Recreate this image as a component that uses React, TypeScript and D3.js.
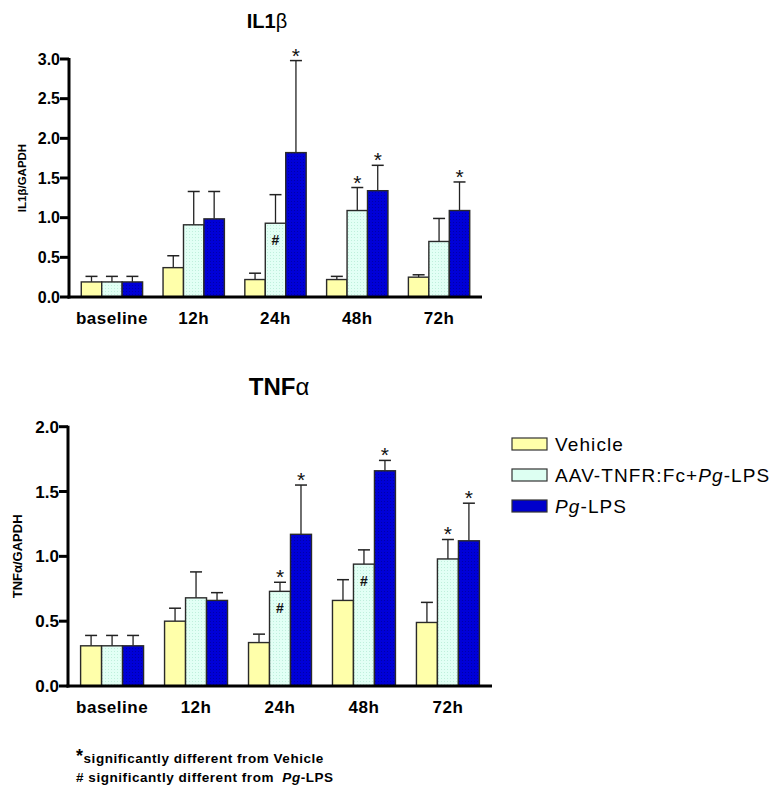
import React from "react";
import * as d3 from "d3";

const categories = ["baseline", "12h", "24h", "48h", "72h"];
const seriesNames = ["Vehicle", "AAV-TNFR:Fc+Pg-LPS", "Pg-LPS"];

// IL1β / GAPDH
const il1Vehicle = [0.19, 0.37, 0.22, 0.22, 0.25];
const il1VehicleErr = [0.07, 0.15, 0.08, 0.04, 0.03];
const il1Aav = [0.19, 0.91, 0.93, 1.09, 0.7];
const il1AavErr = [0.07, 0.42, 0.36, 0.29, 0.29];
const il1Pg = [0.19, 0.985, 1.82, 1.34, 1.09];
const il1PgErr = [0.07, 0.345, 1.16, 0.32, 0.36];
const il1AavStar = [false, false, false, true, false];
const il1PgStar = [false, false, true, true, true];
const il1AavHash = [false, false, true, false, false];
const il1Ticks = [0, 0.5, 1.0, 1.5, 2.0, 2.5, 3.0];

// TNFα / GAPDH
const tnfVehicle = [0.31, 0.5, 0.335, 0.66, 0.49];
const tnfVehicleErr = [0.08, 0.1, 0.065, 0.16, 0.155];
const tnfAav = [0.31, 0.68, 0.73, 0.94, 0.98];
const tnfAavErr = [0.08, 0.2, 0.07, 0.11, 0.15];
const tnfPg = [0.31, 0.66, 1.17, 1.66, 1.12];
const tnfPgErr = [0.08, 0.06, 0.38, 0.08, 0.29];
const tnfAavStar = [false, false, true, false, true];
const tnfPgStar = [false, false, true, true, true];
const tnfAavHash = [false, false, true, true, false];
const tnfTicks = [0, 0.5, 1.0, 1.5, 2.0];

const fills = ["#FFFFAA", "url(#cyanPat)", "url(#bluePat)"];
const legendFills = ["#FFFFAA", "#DDFFF2", "#0000CC"];
const FONT = "Arial, 'Liberation Sans', Helvetica, sans-serif";

type Panel = {
  title: React.ReactNode;
  titleX: number;
  titleY: number;
  titleSize: number;
  yLabel: React.ReactNode;
  yLabelX: number;
  yLabelSize: number;
  xRange: [number, number];
  yRange: [number, number];
  yMax: number;
  ticks: number[];
  tickSize: number;
  xLabelY: number;
  values: number[][];
  errs: number[][];
  stars: (boolean[] | null)[];
  hashes: (boolean[] | null)[];
};

function ChartPanel({ p }: { p: Panel }) {
  const x = d3
    .scaleBand<string>()
    .domain(categories)
    .range(p.xRange)
    .paddingInner(0.25)
    .paddingOuter(0.15);
  const sub = d3
    .scaleBand<number>()
    .domain([0, 1, 2])
    .range([0, x.bandwidth()]);
  const y = d3.scaleLinear().domain([0, p.yMax]).range(p.yRange);
  const y0 = y(0);
  const bw = sub.bandwidth();
  const capW = 12;

  return (
    <g>
      <text
        x={p.titleX}
        y={p.titleY}
        textAnchor="middle"
        fontFamily={FONT}
        fontWeight="bold"
        fontSize={p.titleSize}
      >
        {p.title}
      </text>
      <text
        transform={`translate(${p.yLabelX},${(y(0) + y(p.yMax)) / 2}) rotate(-90)`}
        textAnchor="middle"
        fontFamily={FONT}
        fontWeight="bold"
        fontSize={p.yLabelSize}
      >
        {p.yLabel}
      </text>
      {p.values.map((vals, s) =>
        categories.map((c, i) => {
          const bx = (x(c) as number) + (sub(s) as number);
          const top = y(vals[i]);
          const errTop = y(vals[i] + p.errs[s][i]);
          const cx = bx + bw / 2;
          const st = p.stars[s];
          const hs = p.hashes[s];
          return (
            <g key={`${s}-${i}`}>
              <line x1={cx} x2={cx} y1={top} y2={errTop} stroke="#222" strokeWidth={1.3} />
              <line
                x1={cx - capW / 2}
                x2={cx + capW / 2}
                y1={errTop}
                y2={errTop}
                stroke="#222"
                strokeWidth={1.5}
              />
              <rect
                x={bx}
                y={top}
                width={bw}
                height={y0 - top}
                fill={fills[s]}
                stroke="#2a2a2a"
                strokeWidth={1.4}
              />
              {st && st[i] ? (
                <text
                  x={cx}
                  y={errTop + 2}
                  textAnchor="middle"
                  fontFamily={FONT}
                  fontSize={21}
                  fill="#111"
                >
                  *
                </text>
              ) : null}
              {hs && hs[i] ? (
                <text
                  x={cx}
                  y={top + 22}
                  textAnchor="middle"
                  fontFamily={FONT}
                  fontWeight="bold"
                  fontSize={14}
                  fill="#111"
                >
                  #
                </text>
              ) : null}
            </g>
          );
        })
      )}
      {/* axes */}
      <line
        x1={p.xRange[0]}
        x2={p.xRange[0]}
        y1={y(p.yMax) - 1}
        y2={y0 + 1.5}
        stroke="#000"
        strokeWidth={3}
      />
      <line
        x1={p.xRange[0] - 1.5}
        x2={p.xRange[1]}
        y1={y0}
        y2={y0}
        stroke="#000"
        strokeWidth={3}
      />
      {p.ticks.map((t) => (
        <g key={t}>
          <line
            x1={p.xRange[0] - 9}
            x2={p.xRange[0]}
            y1={y(t)}
            y2={y(t)}
            stroke="#000"
            strokeWidth={3}
          />
          <text
            x={p.xRange[0] - 9}
            y={y(t) + p.tickSize * 0.36}
            textAnchor="end"
            fontFamily={FONT}
            fontWeight="bold"
            fontSize={p.tickSize}
          >
            {d3.format(".1f")(t)}
          </text>
        </g>
      ))}
      {categories.map((c) => (
        <text
          key={c}
          x={(x(c) as number) + x.bandwidth() / 2}
          y={p.xLabelY}
          textAnchor="middle"
          fontFamily={FONT}
          fontWeight="bold"
          fontSize={17}
          letterSpacing={0.5}
        >
          {c}
        </text>
      ))}
    </g>
  );
}

export default function App() {
  const top: Panel = {
    title: (
      <>
        IL1<tspan fontWeight="normal">β</tspan>
      </>
    ),
    titleX: 267,
    titleY: 28,
    titleSize: 20,
    yLabel: "IL1β/GAPDH",
    yLabelX: 26,
    yLabelSize: 11.5,
    xRange: [69, 482],
    yRange: [297, 59],
    yMax: 3,
    ticks: il1Ticks,
    tickSize: 16,
    xLabelY: 324,
    values: [il1Vehicle, il1Aav, il1Pg],
    errs: [il1VehicleErr, il1AavErr, il1PgErr],
    stars: [null, il1AavStar, il1PgStar],
    hashes: [null, il1AavHash, null],
  };
  const bottom: Panel = {
    title: (
      <>
        TNF<tspan fontWeight="normal">α</tspan>
      </>
    ),
    titleX: 279,
    titleY: 395,
    titleSize: 24,
    yLabel: "TNFα/GAPDH",
    yLabelX: 22,
    yLabelSize: 13,
    xRange: [68, 492],
    yRange: [686, 426.7],
    yMax: 2,
    ticks: tnfTicks,
    tickSize: 17,
    xLabelY: 713,
    values: [tnfVehicle, tnfAav, tnfPg],
    errs: [tnfVehicleErr, tnfAavErr, tnfPgErr],
    stars: [null, tnfAavStar, tnfPgStar],
    hashes: [null, tnfAavHash, null],
  };

  const legendY = [438, 469, 500];

  return (
    <svg
      width={778}
      height={791}
      style={{ position: "absolute", left: 0, top: 0, background: "#fff" }}
    >
      <defs>
        <pattern id="cyanPat" width={3} height={3} patternUnits="userSpaceOnUse">
          <rect width={3} height={3} fill="#E2FFF5" />
          <rect width={1} height={1} fill="#BFEFDC" />
        </pattern>
        <pattern id="bluePat" width={3} height={3} patternUnits="userSpaceOnUse">
          <rect width={3} height={3} fill="#0000D8" />
          <rect width={1} height={1} fill="#0000A8" />
        </pattern>
      </defs>
      <rect width={778} height={791} fill="#fff" />
      <ChartPanel p={top} />
      <ChartPanel p={bottom} />
      {/* legend */}
      {seriesNames.map((n, i) => (
        <g key={n}>
          <rect
            x={512}
            y={legendY[i]}
            width={35}
            height={12}
            fill={legendFills[i]}
            stroke="#333"
            strokeWidth={1.2}
          />
          <text
            x={555}
            y={legendY[i] + 13}
            fontFamily={FONT}
            fontSize={19}
            letterSpacing={1.1}
          >
            {i === 0 ? (
              "Vehicle"
            ) : i === 1 ? (
              <>
                AAV-TNFR:Fc+<tspan fontStyle="italic">Pg</tspan>-LPS
              </>
            ) : (
              <>
                <tspan fontStyle="italic">Pg</tspan>-LPS
              </>
            )}
          </text>
        </g>
      ))}
      {/* footnotes */}
      <text
        x={76}
        y={763}
        fontFamily={FONT}
        fontWeight="bold"
        fontSize={13.5}
        letterSpacing={0.55}
      >
        <tspan fontSize={18} dy={-1}>*</tspan>
        <tspan dy={1}>significantly different from Vehicle</tspan>
      </text>
      <text
        x={76}
        y={782}
        fontFamily={FONT}
        fontWeight="bold"
        fontSize={13.5}
        letterSpacing={0.55}
      >
        # significantly different from <tspan dx={4} fontStyle="italic">Pg</tspan>-LPS
      </text>
    </svg>
  );
}
